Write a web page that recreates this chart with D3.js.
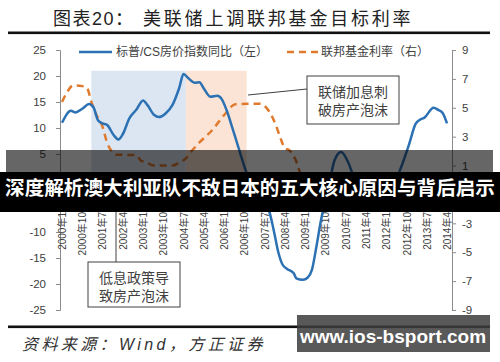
<!DOCTYPE html>
<html>
<head>
<meta charset="utf-8">
<script src="https://cdn.jsdelivr.net/npm/d3@7"></script>
<style>
body { margin: 0; background: #fff; }
text { font-family: "Liberation Sans", "Noto Sans CJK SC", sans-serif; }
</style>
</head>
<body>
<svg id="chart" width="500" height="362"></svg>
<script>

// S&P/Case-Shiller YoY (%), left axis
const hpi = [
	["2000-01", 11.0], ["2000-05", 13.3], ["2000-07", 13.0], ["2000-10", 13.7],
	["2001-01", 14.6], ["2001-03", 14.0], ["2001-05", 11.5], ["2001-07", 10.9],
	["2001-09", 10.6], ["2001-12", 8.6], ["2002-02", 7.8], ["2002-04", 8.8],
	["2002-07", 11.9], ["2002-10", 13.5], ["2003-01", 15.3], ["2003-03", 14.4],
	["2003-06", 12.5], ["2003-08", 12.1], ["2003-11", 12.8], ["2004-02", 14.4],
	["2004-05", 17.6], ["2004-07", 20.4], ["2004-09", 19.6], ["2004-12", 18.7],
	["2005-02", 18.8], ["2005-04", 17.6], ["2005-07", 16.0], ["2005-10", 16.2],
	["2005-12", 15.5], ["2006-02", 13.5], ["2006-05", 9.6], ["2006-07", 6.8],
	["2006-11", 1.3], ["2007-02", -1.9], ["2007-06", -4.2], ["2007-09", -6.0],
	["2007-11", -9.6], ["2008-01", -13.8], ["2008-03", -16.3], ["2008-05", -17.1],
	["2008-08", -18.0], ["2008-09", -18.9], ["2008-12", -19.2], ["2009-02", -18.8],
	["2009-04", -17.3], ["2009-06", -12.8], ["2009-08", -7.8], ["2009-10", -4.0],
	["2009-12", 0.0], ["2010-02", 3.8], ["2010-05", 5.4], ["2010-08", 3.5],
	["2010-11", 0.0], ["2011-02", -2.9], ["2011-05", -3.8], ["2011-09", -3.5],
	["2011-12", -3.8], ["2012-02", -3.2], ["2012-04", -1.3], ["2012-08", 2.9],
	["2012-11", 6.7], ["2013-02", 10.8], ["2013-04", 11.6], ["2013-06", 12.0],
	["2013-10", 13.9], ["2013-12", 13.5], ["2014-02", 12.9], ["2014-04", 10.9]
];

// federal funds rate (%), right axis
const fedRate = [
	["2000-01", 5.4], ["2000-03", 6.0], ["2000-06", 6.55], ["2000-10", 6.5],
	["2000-12", 6.4], ["2001-02", 5.4], ["2001-04", 4.6], ["2001-07", 3.7],
	["2001-09", 2.6], ["2001-11", 2.0], ["2002-01", 1.75], ["2002-10", 1.73],
	["2002-12", 1.35], ["2003-02", 1.25], ["2003-06", 1.0], ["2004-02", 1.0],
	["2004-05", 1.2], ["2004-08", 1.5], ["2004-10", 1.9], ["2005-02", 2.6],
	["2005-08", 3.5], ["2006-01", 4.5], ["2006-06", 5.24], ["2007-05", 5.28],
	["2007-08", 4.96], ["2007-12", 3.8], ["2008-02", 2.9], ["2008-04", 2.2],
	["2008-06", 2.05], ["2008-09", 1.3], ["2008-11", 0.4], ["2009-01", 0.15],
	["2010-01", 0.13], ["2011-09", 0.1], ["2013-05", 0.12], ["2014-04", 0.1]
];

const cutPeriod = ["2001-02", "2004-08"];
const hikePeriod = ["2004-08", "2006-11"];
const shadeLevel = 21;

const leftTicks = [25, 20, 15, 10, 5, 0, -5, -10, -15, -20, -25];
const rightTicks = [9, 7, 5, 3, 1, -1, -3, -5, -7, -9];
const xTicks = ["2000-01", "2000-10", "2001-07", "2002-04", "2003-01", "2003-10",
	"2004-07", "2005-04", "2006-01", "2006-10", "2007-07", "2008-04", "2009-01",
	"2009-10", "2010-07", "2011-04", "2012-01", "2012-10", "2013-07", "2014-04"];

const parse = d3.timeParse("%Y-%m");
const svg = d3.select("#chart");

const x = d3.scaleTime().domain([parse("2000-01"), parse("2014-04")]).range([62, 447]);
const yL = d3.scaleLinear().domain([-25, 25]).range([310, 50]);
const yR = d3.scaleLinear().domain([-9, 9]).range([310, 50]);

// shaded periods
svg.append("rect")
	.attr("x", x(parse(cutPeriod[0])))
	.attr("y", yL(shadeLevel))
	.attr("width", x(parse(cutPeriod[1])) - x(parse(cutPeriod[0])))
	.attr("height", yL(0) - yL(shadeLevel))
	.attr("fill", "#dce6f2");
svg.append("rect")
	.attr("x", x(parse(hikePeriod[0])))
	.attr("y", yL(shadeLevel))
	.attr("width", x(parse(hikePeriod[1])) - x(parse(hikePeriod[0])))
	.attr("height", yL(0) - yL(shadeLevel))
	.attr("fill", "#fbe4d5");

// axes
const gL = svg.append("g").attr("transform", "translate(60,0)")
	.call(d3.axisLeft(yL).tickValues(leftTicks).tickSize(4).tickPadding(10).tickFormat(d => String(d)));
const gR = svg.append("g").attr("transform", "translate(452,0)")
	.call(d3.axisRight(yR).tickValues(rightTicks).tickSize(4).tickPadding(6).tickFormat(d => String(d)));
[gL, gR].forEach(g => {
	g.selectAll("path, line").attr("stroke", "#8c8c8c");
	g.selectAll("text").attr("fill", "#404040").style("font-size", "11.5px");
});

svg.append("line")
	.attr("x1", 60).attr("x2", 452)
	.attr("y1", yL(0)).attr("y2", yL(0))
	.attr("stroke", "#8c8c8c");

const fmt = d => d.getFullYear() + "年" + (d.getMonth() + 1) + "月";
const gX = svg.append("g").attr("transform", `translate(0,${yL(0)})`)
	.call(d3.axisBottom(x).tickValues(xTicks.map(parse)).tickSize(0).tickFormat(fmt));
gX.select(".domain").remove();
gX.selectAll("text")
	.attr("transform", "rotate(-90)")
	.attr("x", -22)
	.attr("y", 0)
	.attr("dy", "0.35em")
	.style("text-anchor", "end")
	.style("font-size", "10px")
	.attr("fill", "#404040");

// lines
const lineL = d3.line().x(d => x(parse(d[0]))).y(d => yL(d[1])).curve(d3.curveMonotoneX);
const lineR = d3.line().x(d => x(parse(d[0]))).y(d => yR(d[1])).curve(d3.curveMonotoneX);

svg.append("path").datum(fedRate)
	.attr("d", lineR)
	.attr("fill", "none")
	.attr("stroke", "#e07a2e")
	.attr("stroke-width", 2.5)
	.attr("stroke-dasharray", "7,5");
svg.append("path").datum(hpi)
	.attr("d", lineL)
	.attr("fill", "none")
	.attr("stroke", "#2b71b3")
	.attr("stroke-width", 2.5);

// legend
svg.append("line").attr("x1", 79).attr("x2", 112).attr("y1", 52).attr("y2", 52)
	.attr("stroke", "#2b71b3").attr("stroke-width", 2.5);
svg.append("text").attr("x", 116).attr("y", 56).text("标普/CS房价指数同比（左）")
	.style("font-size", "12px").attr("fill", "#404040");
svg.append("line").attr("x1", 287).attr("x2", 318).attr("y1", 52).attr("y2", 52)
	.attr("stroke", "#e07a2e").attr("stroke-width", 2.5).attr("stroke-dasharray", "7,5");
svg.append("text").attr("x", 321).attr("y", 56).text("联邦基金利率（右）")
	.style("font-size", "12px").attr("fill", "#404040");

// annotations
function note(bx, by, bw, bh, lines) {
	svg.append("rect").attr("x", bx).attr("y", by).attr("width", bw).attr("height", bh)
		.attr("fill", "#fff").attr("stroke", "#404040");
	lines.forEach((t, i) => {
		svg.append("text").attr("x", bx + bw / 2).attr("y", by + 21 + i * 18)
			.attr("text-anchor", "middle").style("font-size", "14px")
			.attr("fill", "#404040").text(t);
	});
}
svg.append("line").attr("x1", 248).attr("y1", 95).attr("x2", 307).attr("y2", 89)
	.attr("stroke", "#404040");
note(307, 76, 92, 48, ["联储加息刺", "破房产泡沫"]);
svg.append("line").attr("x1", 116).attr("y1", 186).attr("x2", 116).attr("y2", 262)
	.attr("stroke", "#404040");
note(88, 262, 92, 45, ["低息政策导", "致房产泡沫"]);

// title and rules
svg.append("text").attr("x", 53).attr("y", 25).text("图表20：")
	.style("font-size", "18px").style("letter-spacing", "1.5px").attr("fill", "#222");
svg.append("text").attr("x", 143).attr("y", 25).text("美联储上调联邦基金目标利率")
	.style("font-size", "18px").style("letter-spacing", "2.8px").attr("fill", "#222");
svg.append("rect").attr("x", 8).attr("y", 31.5).attr("width", 482).attr("height", 2.6).attr("fill", "#111");
svg.append("rect").attr("x", 8).attr("y", 325.5).attr("width", 482).attr("height", 2.6).attr("fill", "#111");
svg.append("text").attr("x", 22).attr("y", 350).text("资料来源：Wind，方正证券")
	.style("font-size", "16px").style("font-style", "italic").style("letter-spacing", "3.4px")
	.attr("fill", "#333");

// overlay banner
svg.append("rect").attr("x", 0).attr("y", 172).attr("width", 500).attr("height", 40).attr("fill", "#000");
svg.append("rect").attr("x", 6).attr("y", 150).attr("width", 487).attr("height", 62).attr("fill", "rgba(0,0,0,0.6)");
svg.append("text").attr("x", 250).attr("y", 195).attr("text-anchor", "middle")
	.text("深度解析澳大利亚队不敌日本的五大核心原因与背后启示")
	.style("font-size", "19.6px").style("font-weight", "bold").attr("fill", "#fff");

// watermark
svg.append("rect").attr("x", 297).attr("y", 315).attr("width", 193).attr("height", 37).attr("fill", "rgba(60,60,60,0.85)");
svg.append("text").attr("x", 393).attr("y", 343).attr("text-anchor", "middle")
	.text("www.ios-bsport.com")
	.style("font-size", "19px").style("font-weight", "bold").attr("fill", "#fff");

</script>
</body>
</html>
